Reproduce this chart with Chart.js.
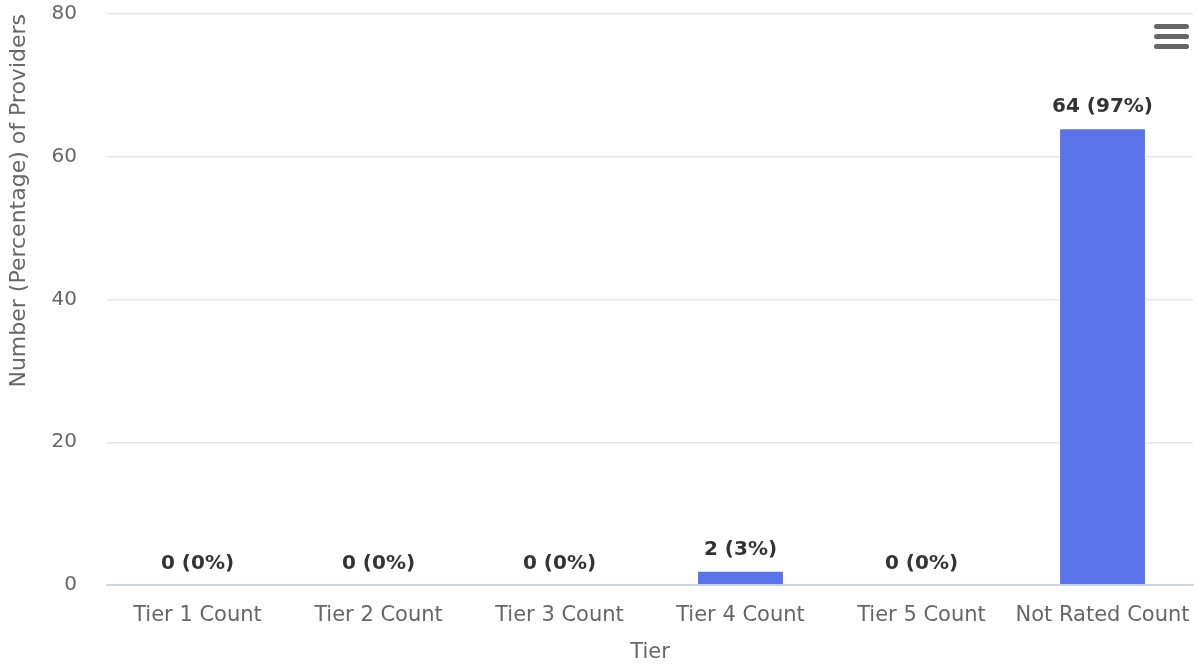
<!DOCTYPE html>
<html>
<head>
<meta charset="utf-8">
<script src="https://cdn.jsdelivr.net/npm/chart.js@4"></script>
<style>
  body { margin: 0; background: #fff; }
  #wrap { position: relative; width: 1197px; height: 669px; }
  #menu { position: absolute; left: 1154px; top: 24px; width: 35px; }
  #menu div { height: 5px; background: #666; border-radius: 3px; margin-bottom: 5px; }
</style>
</head>
<body>
<div id="wrap">
  <canvas id="myChart" width="1197" height="669"></canvas>
  <div id="menu"><div></div><div></div><div></div></div>
</div>
<script>
const tiers = ['Tier 1 Count', 'Tier 2 Count', 'Tier 3 Count', 'Tier 4 Count', 'Tier 5 Count', 'Not Rated Count'];
const counts = [0, 0, 0, 2, 0, 64];
const yTicks = [0, 20, 40, 60, 80];

const total = counts.reduce((a, b) => a + b, 0);
const fontName = '"DejaVu Sans", sans-serif';

// draws "n (p%)" above each bar
const barLabels = {
  id: 'barLabels',
  afterDatasetsDraw(chart) {
    const ctx = chart.ctx;
    const meta = chart.getDatasetMeta(0);
    ctx.save();
    ctx.font = 'bold 20px ' + fontName;
    ctx.fillStyle = '#333333';
    ctx.textAlign = 'center';
    ctx.textBaseline = 'bottom';
    meta.data.forEach((bar, i) => {
      const pct = Math.round(counts[i] / total * 100);
      ctx.fillText(counts[i] + ' (' + pct + '%)', bar.x, bar.y - 11);
    });
    ctx.restore();
  }
};

const ctx = document.getElementById('myChart');
new Chart(ctx, {
  type: 'bar',
  data: {
    labels: tiers,
    datasets: [{
      data: counts,
      backgroundColor: '#5b73e8',
      borderColor: '#ffffff',
      borderWidth: 1,
      categoryPercentage: 1,
      barPercentage: 0.48
    }]
  },
  options: {
    responsive: false,
    animation: false,
    layout: { padding: { top: 14, right: 4, left: 0, bottom: 0 } },
    plugins: { legend: { display: false }, tooltip: { enabled: false } },
    scales: {
      x: {
        grid: { display: false },
        border: { color: '#ccd6eb', width: 2 },
        ticks: { color: '#666666', font: { family: fontName, size: 21 }, padding: 10 },
        title: { display: true, text: 'Tier', color: '#666666', font: { family: fontName, size: 21 }, padding: { top: 6 } },
        afterFit(scale) { scale.height = 84; scale.paddingLeft = 0; scale.paddingRight = 0; }
      },
      y: {
        min: 0,
        max: 80,
        afterBuildTicks(scale) { scale.ticks = yTicks.map(v => ({ value: v })); },
        grid: { color: '#e6e6e6', drawTicks: false, lineWidth: 1.5 },
        border: { display: false },
        ticks: { color: '#666666', font: { family: fontName, size: 20 }, padding: 30 },
        title: { display: true, text: 'Number (Percentage) of Providers', align: 'end', color: '#666666', font: { family: fontName, size: 22 }, padding: { bottom: 0, top: 6 } },
        afterFit(scale) { scale.width = 107; scale.paddingTop = 0; scale.paddingBottom = 0; }
      }
    }
  },
  plugins: [barLabels]
});
</script>
</body>
</html>
